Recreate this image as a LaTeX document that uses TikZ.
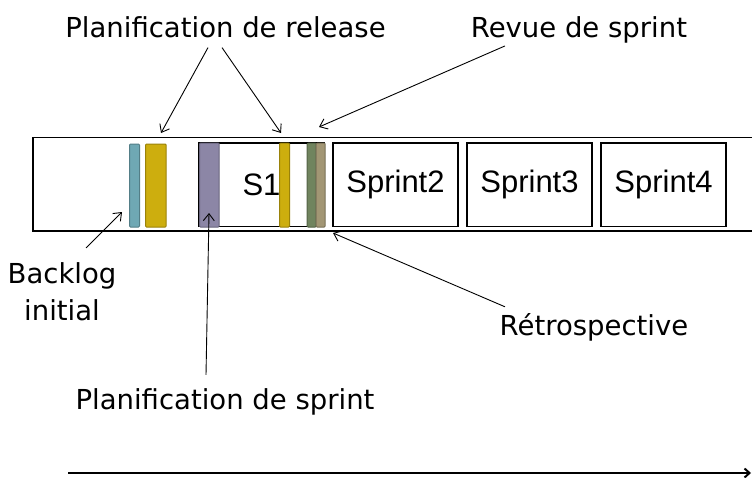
\documentclass[tikz,border=0pt]{standalone}
\usepackage{fontspec}
\setmainfont{DejaVu Sans}
\newfontfamily\arialfont{Liberation Sans}
\usetikzlibrary{positioning,arrows.meta}
\definecolor{bluebar}{RGB}{111,168,180}
\definecolor{yellowbar}{RGB}{205,174,14}
\definecolor{purplebar}{RGB}{140,134,166}
\definecolor{greenbar}{RGB}{112,132,94}
\definecolor{brownbar}{RGB}{162,150,116}
\tikzset{
  lbl/.style={inner sep=0pt,font=\fontsize{27.5}{37}\selectfont},
  bar/.style={draw=#1!75!black,fill=#1,line width=1pt,rounded corners=1pt,
    minimum height=83pt,inner sep=0pt,anchor=west},
  sbox/.style={draw,line width=1.2pt,minimum width=125pt,minimum height=83.5pt,
    inner sep=0pt,font=\arialfont\fontsize{31}{37}\selectfont},
  arr/.style={-{Straight Barb[length=7pt,width=11pt]},line width=0.9pt}
}

\begin{document}
\begin{tikzpicture}[x=1pt,y=-1pt]
  \useasboundingbox (0,0) rectangle (752,477);
  \draw[line width=1.8pt] (33,137.5) rectangle (790,230.7);
  \node[sbox] (s1) at (261.5,184.8) {S1};
  \node[sbox,right=7.8pt of s1] (s2) {Sprint2};
  \node[sbox,right=7.8pt of s2] (s3) {Sprint3};
  \node[sbox,right=7.8pt of s3] (s4) {Sprint4};
  \node[bar=bluebar,minimum width=10pt] (blue) at (129,185.5) {};
  \node[bar=yellowbar,minimum width=20.7pt] (yel1) at (145,185.5) {};
  \node[bar=purplebar,minimum width=19.7pt,minimum height=84pt] (purp) at (199,185) {};
  \node[bar=yellowbar,minimum width=10pt,minimum height=84pt] (yel2) at (279,185) {};
  \node[bar=greenbar,minimum width=9pt,minimum height=84pt] (green) at (306.7,185) {};
  \node[bar=brownbar,minimum width=9pt,minimum height=84pt] (brown) at (315.7,185) {};
  \node[lbl,anchor=base] (rel) at (225.5,37) {Planification de release};
  \node[lbl,anchor=base] (rev) at (579,37) {Revue de sprint};
  \node[lbl,anchor=base,align=center] (bl) at (62,320) {Backlog\\initial};
  \node[lbl,anchor=base] (retro) at (594,335) {Rétrospective};
  \node[lbl,anchor=base] (sp) at (225,409) {Planification de sprint};
  \coordinate (relA) at (161,133);
  \coordinate (relB) at (281,133);
  \coordinate (revA) at (319,127);
  \coordinate (blA) at (122,212);
  \coordinate (spA) at (209,213);
  \coordinate (retA) at (333,233);
  \coordinate (t0) at (68,473);
  \coordinate (t1) at (751,473);
  \draw[arr] ([xshift=-17.5pt,yshift=-10pt]rel.south) -- (relA);
  \draw[arr] ([xshift=-3.5pt,yshift=-10pt]rel.south) -- (relB);
  \draw[arr] ([xshift=-74pt,yshift=-3pt]rev.south) -- (revA);
  \draw[arr] ([xshift=24pt,yshift=14pt]bl.north) -- (blA);
  \draw[arr] ([xshift=-19pt,yshift=13pt]sp.north) -- (spA);
  \draw[arr] ([xshift=-89pt,yshift=6pt]retro.north) -- (retA);
  \draw[-{Straight Barb[length=5pt,width=9pt]},line width=2pt] (t0) -- (t1);
\end{tikzpicture}
\end{document}
